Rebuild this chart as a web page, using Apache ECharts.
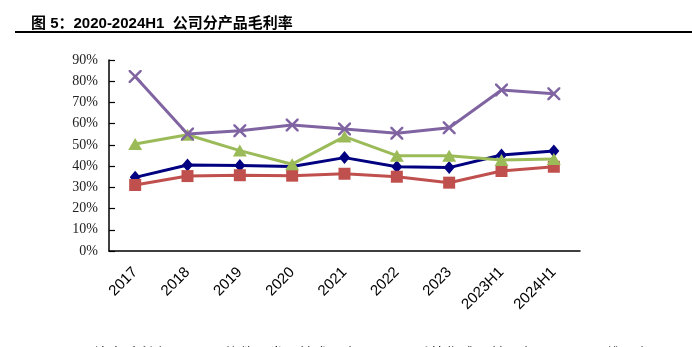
<!DOCTYPE html>
<html>
<head>
<meta charset="utf-8">
<script src="https://cdn.jsdelivr.net/npm/echarts@6/dist/echarts.min.js"></script>
<style>
html,body{margin:0;padding:0;background:#fff;}
#c{width:692px;height:347px;}
</style>
</head>
<body>
<div id="c"></div>
<script>
var categories = ['2017','2018','2019','2020','2021','2022','2023','2023H1','2024H1'];
var seriesNames = ['综合毛利率','软件开发及技术服务','系统集成及其服务','运维服务'];
var overall = [34.7, 40.5, 40.3, 39.8, 44.0, 39.7, 39.3, 45.2, 47.1];
var software = [31.1, 35.3, 35.7, 35.5, 36.4, 35.0, 32.2, 37.7, 39.7];
var integration = [50.4, 54.8, 47.3, 40.9, 53.9, 44.9, 44.9, 42.9, 43.4];
var maintenance = [82.2, 55.1, 56.7, 59.4, 57.5, 55.5, 58.1, 75.9, 74.1];
var yTicks = {min: 0, max: 90, interval: 10};
var titleText = '图 5：2020-2024H1  公司分产品毛利率';

var xPath = 'path://M0,0 L1.6,0 L6,4.4 L10.4,0 L12,0 L12,1.6 L7.6,6 L12,10.4 L12,12 L10.4,12 L6,7.6 L1.6,12 L0,12 L0,10.4 L4.4,6 L0,1.6 Z';

var chart = echarts.init(document.getElementById('c'), null, {renderer: 'canvas'});
var colors = ['#000080', '#C0504D', '#9BBB59', '#8064A2'];
var symbols = ['diamond', 'rect', 'triangle', xPath];
var sizes = [[11, 13], 12, [14, 12], 13];
var datas = [overall, software, integration, maintenance];

chart.setOption({
  animation: false,
  title: {
    text: titleText,
    left: 26,
    top: 11,
    textStyle: {
      fontSize: 15,
      fontWeight: 'bold',
      color: '#000',
      fontFamily: 'Liberation Sans, Noto Sans CJK SC, sans-serif'
    }
  },
  graphic: [{
    type: 'line',
    shape: {x1: 15, y1: 32, x2: 692, y2: 32},
    style: {stroke: '#000', lineWidth: 2}
  }],
  legend: {
    data: seriesNames,
    left: 48,
    top: 341,
    itemWidth: 34,
    itemHeight: 12,
    itemGap: 16,
    textStyle: {
      fontSize: 15,
      color: '#000',
      fontFamily: 'Noto Sans CJK SC, sans-serif'
    }
  },
  grid: {left: 109, right: 112, top: 60, bottom: 96, containLabel: false},
  xAxis: {
    type: 'category',
    data: categories,
    boundaryGap: true,
    axisLine: {lineStyle: {color: '#000', width: 1.5}},
    axisTick: {inside: true, length: 6, lineStyle: {color: '#000', width: 1.2}},
    axisLabel: {
      rotate: 45,
      margin: 19,
      fontSize: 15,
      color: '#000',
      fontFamily: 'Liberation Sans, Arial, sans-serif'
    },
    splitLine: {show: false}
  },
  yAxis: {
    type: 'value',
    min: yTicks.min,
    max: yTicks.max,
    interval: yTicks.interval,
    axisLine: {show: true, lineStyle: {color: '#000', width: 1.5}},
    axisTick: {show: true, inside: true, length: 6, lineStyle: {color: '#000', width: 1.2}},
    axisLabel: {
      formatter: '{value}%',
      margin: 11,
      fontSize: 14,
      color: '#222',
      fontFamily: 'Liberation Serif, serif'
    },
    splitLine: {show: false}
  },
  series: seriesNames.map(function (n, i) {
    return {
      name: n,
      type: 'line',
      data: datas[i],
      symbol: symbols[i],
      symbolSize: sizes[i],
      showAllSymbol: true,
      lineStyle: {color: colors[i], width: 3},
      itemStyle: {color: colors[i], borderWidth: 0},
      emphasis: {disabled: true},
      z: 2 + i
    };
  })
});
</script>
</body>
</html>
